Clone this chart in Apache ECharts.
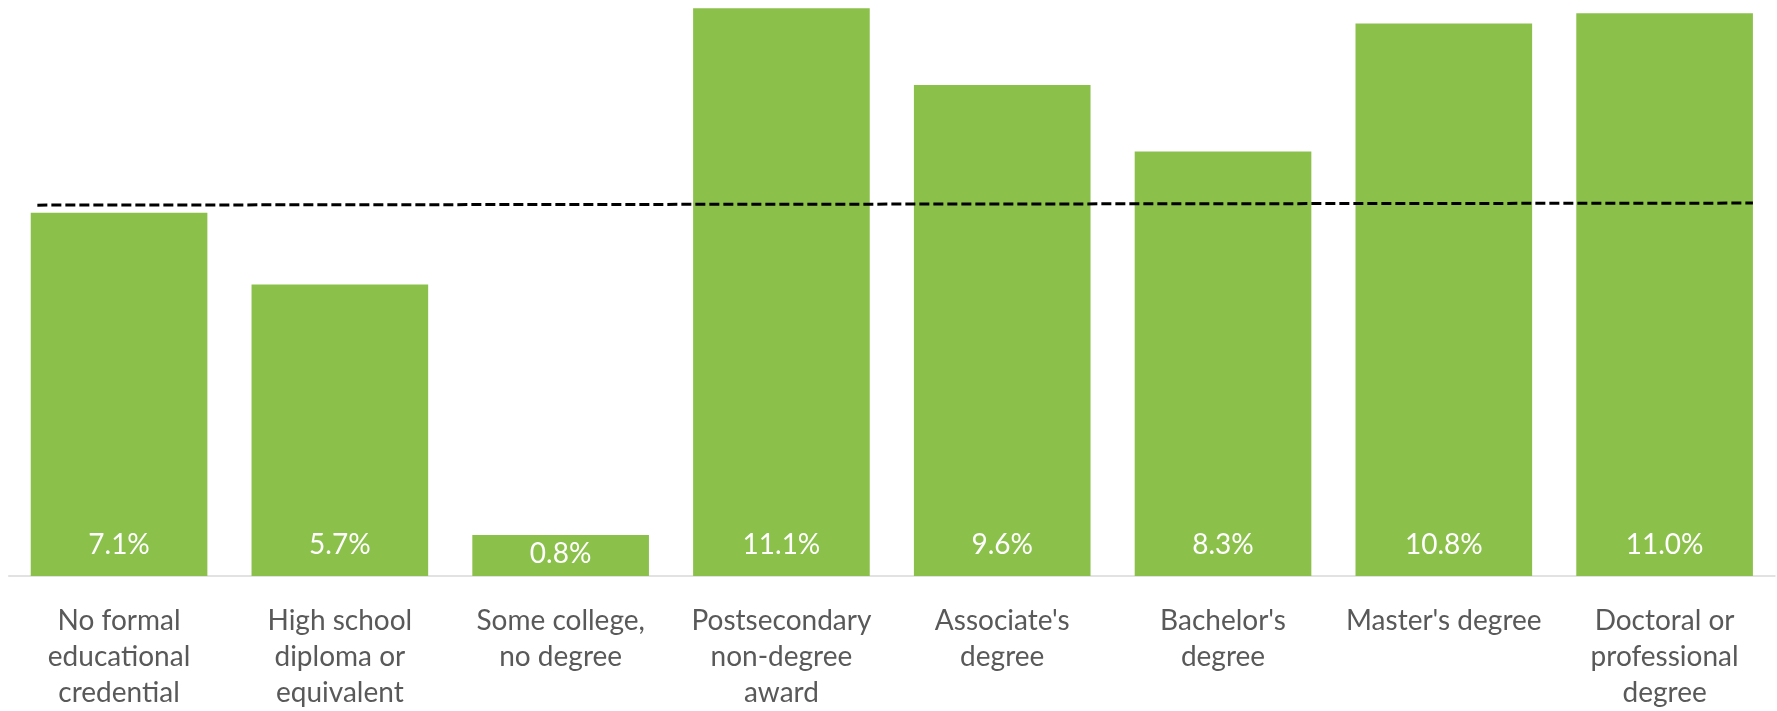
<!DOCTYPE html>
<html>
<head>
<meta charset="utf-8">
<script src="https://cdn.jsdelivr.net/npm/echarts@6/dist/echarts.min.js"></script>
<style>
html,body{margin:0;padding:0;background:#fff;}
#chart{width:1777px;height:711px;}
</style>
</head>
<body>
<div id="chart"></div>
<script>
var categories = [
  "No formal\neducational\ncredential",
  "High school\ndiploma or\nequivalent",
  "Some college,\nno degree",
  "Postsecondary\nnon-degree\naward",
  "Associate's\ndegree",
  "Bachelor's\ndegree",
  "Master's degree",
  "Doctoral or\nprofessional\ndegree"
];
var growthValues = [7.1, 5.7, 0.8, 11.1, 9.6, 8.3, 10.8, 11.0];
// reference (all occupations) dashed line: [category position, value]
var referenceLine = [[-0.37, 7.25], [7.4, 7.29]];

var chart = echarts.init(document.getElementById('chart'), null, {renderer: 'canvas'});
var FONT = 'Lato, "Open Sans", sans-serif';

var option = {
  animation: false,
  backgroundColor: '#ffffff',
  grid: {left: 8.65, right: 2, top: 0, bottom: 134.5, containLabel: false},
  xAxis: [
    {
      type: 'category',
      data: categories,
      axisLine: {show: true, lineStyle: {color: '#d9d9d9', width: 1.5}},
      axisTick: {show: false},
      axisLabel: {
        interval: 0,
        color: '#595959',
        fontFamily: FONT,
        fontSize: 28,
        lineHeight: 36,
        margin: 27,
        align: 'center'
      }
    },
    {
      type: 'value',
      min: -0.5,
      max: 7.5,
      show: false
    }
  ],
  yAxis: {
    type: 'value',
    min: 0,
    max: 11.26,
    show: false,
    splitLine: {show: false}
  },
  series: [
    {
      type: 'bar',
      data: growthValues.map(function (v) {
        var item = {value: v};
        if (v < 1.5) {
          item.label = {position: 'inside', offset: [0, -2]};
        }
        return item;
      }),
      barCategoryGap: '20%',
      itemStyle: {color: '#8bc14a'},
      label: {
        show: true,
        position: 'insideBottom',
        distance: 17,
        color: '#ffffff',
        fontFamily: FONT,
        fontSize: 28,
        formatter: function (p) { return p.value.toFixed(1) + '%'; }
      },
      z: 2
    },
    {
      type: 'line',
      xAxisIndex: 1,
      data: referenceLine,
      symbol: 'none',
      lineStyle: {color: '#000000', width: 3, type: [10, 4]},
      z: 5
    }
  ]
};
chart.setOption(option);
</script>
</body>
</html>
